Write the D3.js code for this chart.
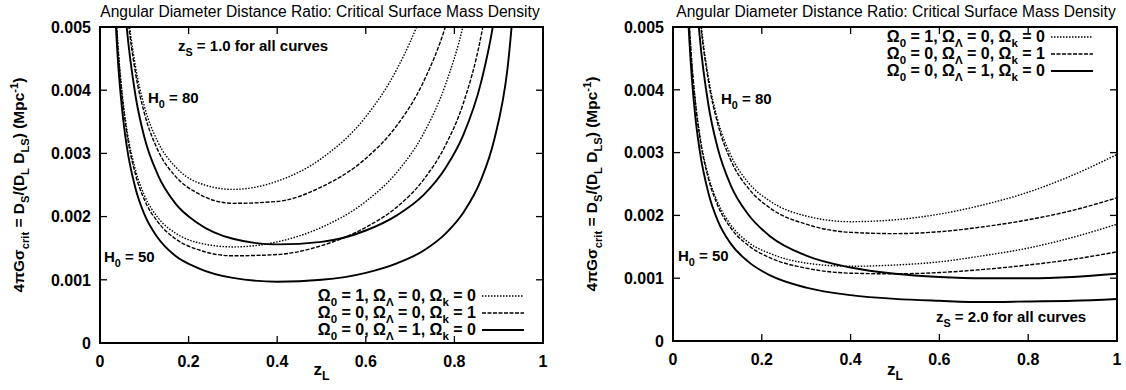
<!DOCTYPE html>
<html>
<head>
<meta charset="utf-8">
<script src="https://cdn.jsdelivr.net/npm/d3@7/dist/d3.min.js"></script>
<style>
  body { margin: 0; background: #fff; }
  svg { display: block; font-family: "Liberation Sans", Arial, Helvetica, sans-serif; }
</style>
</head>
<body>
<svg id="chart" width="1126" height="390"></svg>
<script>
// lens redshift grids
var zL1 = [0.025, 0.03, 0.04, 0.05, 0.06, 0.08, 0.1, 0.13, 0.17, 0.22, 0.3, 0.4, 0.5, 0.6, 0.67, 0.73, 0.78, 0.82, 0.86, 0.89, 0.92, 0.95];
var zL2 = [0.025, 0.03, 0.04, 0.05, 0.06, 0.08, 0.1, 0.13, 0.17, 0.22, 0.3, 0.4, 0.5, 0.6, 0.7, 0.8, 0.9, 1.0];

// z_S = 1.0, values in Mpc^-1
var eds50_s1 = [0.00727, 0.00616, 0.00478, 0.00396, 0.00341, 0.00274, 0.00234, 0.00199, 0.00174, 0.00159, 0.00152, 0.00160, 0.00183, 0.00224, 0.00270, 0.00331, 0.00409, 0.00503, 0.00652, 0.00835, 0.01156, 0.01863];
var eds80_s1 = [0.01163, 0.00986, 0.00765, 0.00634, 0.00546, 0.00438, 0.00375, 0.00319, 0.00279, 0.00254, 0.00243, 0.00256, 0.00292, 0.00358, 0.00433, 0.00530, 0.00655, 0.00805, 0.01043, 0.01336, 0.01849, 0.02981];
var open50_s1 = [0.00722, 0.00611, 0.00473, 0.00390, 0.00335, 0.00267, 0.00227, 0.00192, 0.00165, 0.00148, 0.00138, 0.00140, 0.00154, 0.00183, 0.00215, 0.00258, 0.00313, 0.00379, 0.00485, 0.00614, 0.00841, 0.01341];
var open80_s1 = [0.01155, 0.00978, 0.00756, 0.00624, 0.00536, 0.00428, 0.00364, 0.00306, 0.00264, 0.00237, 0.00221, 0.00224, 0.00247, 0.00292, 0.00344, 0.00413, 0.00501, 0.00607, 0.00775, 0.00982, 0.01345, 0.02146];
var lam50_s1 = [0.00701, 0.00590, 0.00452, 0.00369, 0.00313, 0.00245, 0.00204, 0.00167, 0.00138, 0.00119, 0.00103, 0.00097, 0.00100, 0.00111, 0.00126, 0.00146, 0.00173, 0.00206, 0.00258, 0.00322, 0.00435, 0.00685];
var lam80_s1 = [0.01122, 0.00945, 0.00723, 0.00590, 0.00502, 0.00392, 0.00326, 0.00267, 0.00221, 0.00190, 0.00165, 0.00156, 0.00160, 0.00178, 0.00202, 0.00234, 0.00277, 0.00329, 0.00412, 0.00515, 0.00696, 0.01096];

// z_S = 2.0, values in Mpc^-1
var eds50_s2 = [0.00718, 0.00607, 0.00468, 0.00385, 0.00330, 0.00262, 0.00222, 0.00185, 0.00157, 0.00139, 0.00124, 0.00119, 0.00121, 0.00126, 0.00136, 0.00148, 0.00165, 0.00186];
var eds80_s2 = [0.01148, 0.00971, 0.00749, 0.00617, 0.00528, 0.00419, 0.00354, 0.00296, 0.00252, 0.00222, 0.00199, 0.00190, 0.00193, 0.00202, 0.00217, 0.00237, 0.00264, 0.00297];
var open50_s2 = [0.00714, 0.00603, 0.00465, 0.00382, 0.00326, 0.00258, 0.00217, 0.00180, 0.00152, 0.00132, 0.00116, 0.00108, 0.00107, 0.00109, 0.00114, 0.00121, 0.00130, 0.00142];
var open80_s2 = [0.01143, 0.00965, 0.00743, 0.00611, 0.00522, 0.00413, 0.00348, 0.00288, 0.00243, 0.00211, 0.00186, 0.00173, 0.00171, 0.00174, 0.00182, 0.00193, 0.00208, 0.00228];
var lam50_s2 = [0.00693, 0.00581, 0.00443, 0.00359, 0.00304, 0.00235, 0.00193, 0.00155, 0.00126, 0.00104, 0.00085, 0.00073, 0.00067, 0.00064, 0.00062, 0.00063, 0.00064, 0.00067];
var lam80_s2 = [0.01108, 0.00930, 0.00708, 0.00575, 0.00486, 0.00375, 0.00309, 0.00248, 0.00201, 0.00166, 0.00136, 0.00117, 0.00107, 0.00102, 0.00100, 0.00100, 0.00102, 0.00107];

// legend: cosmology parameters
var omega0 = [1, 0, 0];
var omegaL = [0, 0, 1];
var omegaK = [0, 1, 0];
var dashes = ["1.5,1.5", "4,1.5", null];

var xTicks = [0, 0.2, 0.4, 0.6, 0.8, 1];
var yTicks = [0, 0.001, 0.002, 0.003, 0.004, 0.005];
var titleText = "Angular Diameter Distance Ratio: Critical Surface Mass Density";

var svg = d3.select("#chart");

// write text with sub/superscript parts
function rich(sel, parts, size) {
	var shift = 0;
	parts.forEach(function (p) {
		var target = p[1] === "sub" ? 0.3 * size : (p[1] === "sup" ? -0.4 * size : 0);
		sel.append("tspan")
			.attr("dy", target - shift)
			.attr("font-size", p[1] ? size * 0.72 : size)
			.text(p[0]);
		shift = target;
	});
	return sel;
}

function drawPanel(opt) {
	var x = d3.scaleLinear().domain([0, 1]).range([opt.left, opt.right]);
	var y = d3.scaleLinear().domain([0, 0.005]).range([opt.bottom, opt.top]);
	var g = svg.append("g");

	g.append("clipPath").attr("id", opt.id)
		.append("rect")
		.attr("x", opt.left).attr("y", opt.top)
		.attr("width", opt.right - opt.left).attr("height", opt.bottom - opt.top);

	// title
	g.append("text")
		.attr("x", opt.titleX)
		.attr("y", 17)
		.attr("text-anchor", "middle")
		.attr("font-size", 15.6)
		.text(titleText);

	// ticks on all four sides, pointing inwards
	var tk = 7;
	xTicks.forEach(function (t) {
		g.append("line").attr("x1", x(t)).attr("x2", x(t)).attr("y1", opt.bottom).attr("y2", opt.bottom - tk);
		g.append("line").attr("x1", x(t)).attr("x2", x(t)).attr("y1", opt.top).attr("y2", opt.top + tk);
		g.append("text")
			.attr("x", x(t)).attr("y", opt.bottom + 24)
			.attr("text-anchor", "middle")
			.attr("font-size", 16).attr("font-weight", "bold")
			.text(d3.format("")(t));
	});
	yTicks.forEach(function (t) {
		g.append("line").attr("x1", opt.left).attr("x2", opt.left + tk).attr("y1", y(t)).attr("y2", y(t));
		g.append("line").attr("x1", opt.right).attr("x2", opt.right - tk).attr("y1", y(t)).attr("y2", y(t));
		g.append("text")
			.attr("x", opt.left - 9).attr("y", y(t)).attr("dy", "0.36em")
			.attr("text-anchor", "end")
			.attr("font-size", 16).attr("font-weight", "bold")
			.text(t === 0 ? "0" : d3.format(".3f")(t));
	});
	g.selectAll("line").attr("stroke", "#000").attr("stroke-width", 1.3);

	// curves
	var line = d3.line()
		.x(function (d) { return x(d[0]); })
		.y(function (d) { return y(d[1]); })
		.curve(d3.curveMonotoneX);
	var cg = g.append("g").attr("clip-path", "url(#" + opt.id + ")");
	opt.series.forEach(function (s) {
		var pts = opt.z.map(function (z, i) { return [z, s.v[i]]; });
		cg.append("path")
			.attr("d", line(pts))
			.attr("fill", "none")
			.attr("stroke", "#000")
			.attr("stroke-width", s.k === 2 ? 1.9 : 1.4)
			.attr("stroke-dasharray", dashes[s.k]);
	});

	// frame
	g.append("rect")
		.attr("x", opt.left).attr("y", opt.top)
		.attr("width", opt.right - opt.left).attr("height", opt.bottom - opt.top)
		.attr("fill", "none").attr("stroke", "#000").attr("stroke-width", 2);

	// axis labels
	rich(g.append("text")
		.attr("x", (opt.left + opt.right) / 2).attr("y", 375)
		.attr("text-anchor", "middle").attr("font-weight", "bold"),
		[["z", null], ["L", "sub"]], 17);

	rich(g.append("text")
		.attr("transform", "translate(" + (opt.left - 76) + "," + ((opt.top + opt.bottom) / 2) + ") rotate(-90)")
		.attr("text-anchor", "middle").attr("font-weight", "bold"),
		[["4\u03c0G\u03c3", null], ["crit", "sub"], [" = D", null], ["S", "sub"], ["/(D", null], ["L", "sub"],
		 [" D", null], ["LS", "sub"], [") (Mpc", null], ["-1", "sup"], [")", null]], 15.5);

	// H0 labels
	opt.hLabels.forEach(function (h) {
		rich(g.append("text").attr("x", h.x).attr("y", h.y).attr("font-weight", "bold"),
			[["H", null], ["0", "sub"], [" = " + h.v, null]], 15);
	});

	// source redshift note
	rich(g.append("text").attr("x", opt.note.x).attr("y", opt.note.y).attr("font-weight", "bold"),
		[["z", null], ["S", "sub"], [" = " + opt.note.zs + " for all curves", null]], 15);

	// legend
	omega0.forEach(function (o, i) {
		var ly = opt.legY + i * 17;
		rich(g.append("text").attr("x", opt.legX).attr("y", ly + 5)
			.attr("text-anchor", "end").attr("font-weight", "bold"),
			[["\u03a9", null], ["0", "sub"], [" = " + o + ", \u03a9", null], ["\u039b", "sub"],
			 [" = " + omegaL[i] + ", \u03a9", null], ["k", "sub"], [" = " + omegaK[i], null]], 16);
		g.append("line")
			.attr("x1", opt.legX + 6).attr("x2", opt.legX + 48)
			.attr("y1", ly).attr("y2", ly)
			.attr("stroke", "#000")
			.attr("stroke-width", i === 2 ? 1.9 : 1.4)
			.attr("stroke-dasharray", dashes[i]);
	});
}

drawPanel({
	id: "clipL", left: 100, right: 543, top: 27, bottom: 343, titleX: 320,
	z: zL1,
	series: [
		{ v: eds50_s1, k: 0 }, { v: eds80_s1, k: 0 },
		{ v: open50_s1, k: 1 }, { v: open80_s1, k: 1 },
		{ v: lam50_s1, k: 2 }, { v: lam80_s1, k: 2 }
	],
	hLabels: [{ x: 148, y: 103, v: 80 }, { x: 104, y: 262, v: 50 }],
	note: { x: 178, y: 51, zs: "1.0" },
	legX: 476, legY: 296
});

drawPanel({
	id: "clipR", left: 673, right: 1117, top: 27, bottom: 341, titleX: 896,
	z: zL2,
	series: [
		{ v: eds50_s2, k: 0 }, { v: eds80_s2, k: 0 },
		{ v: open50_s2, k: 1 }, { v: open80_s2, k: 1 },
		{ v: lam50_s2, k: 2 }, { v: lam80_s2, k: 2 }
	],
	hLabels: [{ x: 721, y: 104, v: 80 }, { x: 678, y: 261, v: 50 }],
	note: { x: 936, y: 322, zs: "2.0" },
	legX: 1045, legY: 37
});
</script>
</body>
</html>
